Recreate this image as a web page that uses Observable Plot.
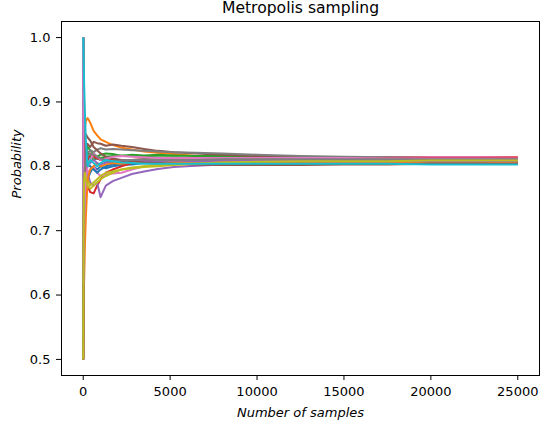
<!DOCTYPE html>
<html>
<head>
<meta charset="utf-8">
<script src="https://cdn.jsdelivr.net/npm/d3@7"></script>
<script src="https://cdn.jsdelivr.net/npm/@observablehq/plot@0.6"></script>
<style>
  html, body { margin: 0; padding: 0; background: white; }
  #chart svg { display: block; }
</style>
</head>
<body>
<div id="chart"></div>
<script>
// Sample counts at which running estimates were read off the picture
const samples = [0, 20, 50, 100, 150, 250, 400, 600, 800, 1000, 1300, 1700, 2200, 2800, 3500, 4300, 5200, 6500, 8000, 10000, 12500, 15000, 17500, 20000, 22500, 25000];

// Running probability estimates per chain
const chain0  = [1.0, 0.75, 0.70, 0.74, 0.76, 0.78, 0.79, 0.80, 0.795, 0.80, 0.797, 0.80, 0.802, 0.803, 0.805, 0.806, 0.805, 0.806, 0.807, 0.806, 0.807, 0.806, 0.807, 0.807, 0.806, 0.806];
const chain1  = [1.0, 0.95, 0.90, 0.86, 0.87, 0.875, 0.868, 0.855, 0.848, 0.842, 0.838, 0.833, 0.829, 0.826, 0.823, 0.821, 0.819, 0.816, 0.815, 0.813, 0.812, 0.811, 0.810, 0.810, 0.809, 0.809];
const chain2  = [0.5, 0.70, 0.76, 0.80, 0.82, 0.83, 0.825, 0.82, 0.815, 0.818, 0.82, 0.819, 0.816, 0.818, 0.817, 0.818, 0.817, 0.816, 0.816, 0.815, 0.814, 0.813, 0.812, 0.812, 0.811, 0.811];
const chain3  = [1.0, 0.80, 0.72, 0.76, 0.75, 0.77, 0.76, 0.758, 0.77, 0.78, 0.79, 0.795, 0.80, 0.805, 0.808, 0.81, 0.811, 0.812, 0.813, 0.812, 0.813, 0.813, 0.814, 0.814, 0.814, 0.814];
const chain4  = [0.5, 0.65, 0.72, 0.76, 0.78, 0.79, 0.775, 0.77, 0.775, 0.752, 0.77, 0.777, 0.782, 0.788, 0.792, 0.796, 0.799, 0.801, 0.803, 0.804, 0.805, 0.806, 0.807, 0.807, 0.808, 0.808];
const chain5  = [1.0, 0.90, 0.84, 0.82, 0.83, 0.835, 0.83, 0.838, 0.836, 0.835, 0.832, 0.834, 0.832, 0.830, 0.827, 0.824, 0.822, 0.82, 0.818, 0.816, 0.814, 0.813, 0.812, 0.811, 0.811, 0.810];
const chain6  = [0.5, 0.70, 0.80, 0.78, 0.80, 0.79, 0.795, 0.80, 0.79, 0.785, 0.787, 0.789, 0.79, 0.795, 0.80, 0.803, 0.806, 0.808, 0.81, 0.811, 0.812, 0.813, 0.813, 0.814, 0.814, 0.813];
const chain7  = [1.0, 0.85, 0.82, 0.84, 0.83, 0.82, 0.825, 0.822, 0.826, 0.828, 0.826, 0.827, 0.826, 0.825, 0.824, 0.823, 0.822, 0.821, 0.82, 0.818, 0.816, 0.815, 0.814, 0.813, 0.813, 0.812];
const chain8  = [0.5, 0.62, 0.70, 0.75, 0.77, 0.78, 0.77, 0.775, 0.78, 0.785, 0.79, 0.792, 0.795, 0.797, 0.799, 0.80, 0.802, 0.804, 0.805, 0.806, 0.807, 0.808, 0.808, 0.809, 0.809, 0.809];
const chain9  = [1.0, 0.80, 0.67, 0.74, 0.78, 0.81, 0.815, 0.81, 0.812, 0.81, 0.808, 0.806, 0.807, 0.806, 0.805, 0.805, 0.806, 0.805, 0.805, 0.804, 0.804, 0.804, 0.804, 0.804, 0.804, 0.804];
const chain10 = [1.0, 0.78, 0.79, 0.81, 0.80, 0.805, 0.80, 0.795, 0.79, 0.795, 0.80, 0.803, 0.805, 0.806, 0.807, 0.808, 0.808, 0.809, 0.808, 0.808, 0.807, 0.807, 0.806, 0.806, 0.805, 0.805];
const chain11 = [0.5, 0.60, 0.62, 0.68, 0.72, 0.78, 0.795, 0.80, 0.805, 0.80, 0.803, 0.805, 0.804, 0.806, 0.807, 0.806, 0.807, 0.806, 0.807, 0.807, 0.806, 0.806, 0.806, 0.807, 0.807, 0.806];
const chain12 = [1.0, 0.88, 0.83, 0.81, 0.815, 0.82, 0.815, 0.81, 0.815, 0.813, 0.815, 0.816, 0.817, 0.816, 0.815, 0.814, 0.814, 0.813, 0.812, 0.812, 0.811, 0.811, 0.810, 0.810, 0.810, 0.810];
const chain13 = [0.5, 0.68, 0.74, 0.78, 0.80, 0.81, 0.82, 0.815, 0.812, 0.81, 0.812, 0.81, 0.808, 0.81, 0.811, 0.81, 0.81, 0.811, 0.811, 0.812, 0.812, 0.812, 0.812, 0.813, 0.813, 0.813];
const chain14 = [1.0, 0.82, 0.80, 0.82, 0.81, 0.80, 0.805, 0.81, 0.805, 0.803, 0.806, 0.808, 0.81, 0.809, 0.808, 0.808, 0.809, 0.808, 0.809, 0.809, 0.808, 0.808, 0.808, 0.808, 0.808, 0.808];
const chain15 = [0.5, 0.75, 0.80, 0.84, 0.85, 0.845, 0.84, 0.83, 0.825, 0.82, 0.815, 0.812, 0.81, 0.808, 0.806, 0.805, 0.804, 0.803, 0.802, 0.802, 0.802, 0.803, 0.803, 0.804, 0.804, 0.804];
const chain16 = [1.0, 0.62, 0.70, 0.76, 0.78, 0.80, 0.81, 0.82, 0.815, 0.81, 0.812, 0.815, 0.816, 0.815, 0.814, 0.813, 0.813, 0.813, 0.813, 0.813, 0.813, 0.813, 0.812, 0.812, 0.812, 0.812];
const chain17 = [0.5, 0.72, 0.78, 0.80, 0.81, 0.815, 0.82, 0.818, 0.815, 0.812, 0.81, 0.808, 0.809, 0.81, 0.811, 0.81, 0.81, 0.81, 0.811, 0.811, 0.811, 0.811, 0.811, 0.811, 0.811, 0.811];
const chain18 = [0.5, 0.70, 0.78, 0.79, 0.78, 0.77, 0.765, 0.77, 0.775, 0.78, 0.785, 0.79, 0.795, 0.798, 0.80, 0.802, 0.803, 0.804, 0.806, 0.807, 0.808, 0.808, 0.808, 0.809, 0.809, 0.809];
const chain19 = [1.0, 0.97, 0.93, 0.88, 0.84, 0.80, 0.81, 0.805, 0.80, 0.805, 0.81, 0.808, 0.806, 0.805, 0.804, 0.804, 0.804, 0.804, 0.804, 0.804, 0.804, 0.804, 0.804, 0.803, 0.803, 0.803];

const chains = [chain0, chain1, chain2, chain3, chain4, chain5, chain6, chain7, chain8, chain9,
                chain10, chain11, chain12, chain13, chain14, chain15, chain16, chain17, chain18, chain19];

const xTicks = [0, 5000, 10000, 15000, 20000, 25000];
const yTicks = [0.5, 0.6, 0.7, 0.8, 0.9, 1.0];
const palette = ["#1f77b4", "#ff7f0e", "#2ca02c", "#d62728", "#9467bd", "#8c564b", "#e377c2", "#7f7f7f", "#bcbd22", "#17becf"];

const titleText = "Metropolis sampling";
const xLabel = "Number of samples";
const yLabel = "Probability";

const lineMarks = chains.map((vals, i) =>
  Plot.line(samples.map((s, j) => ({x: s, y: vals[j]})), {
    x: "x", y: "y", stroke: palette[i % 10], strokeWidth: 2, strokeLinejoin: "round", strokeLinecap: "butt"
  })
);

const chart = Plot.plot({
  width: 541,
  height: 430,
  marginLeft: 61,
  marginRight: 2,
  marginTop: 21,
  marginBottom: 55,
  style: {fontFamily: "'DejaVu Sans'", fontSize: "13px", color: "#000", background: "white"},
  x: {domain: [-1250, 26250], ticks: xTicks, tickFormat: d => String(d), label: null},
  y: {domain: [0.475, 1.025], ticks: yTicks, tickFormat: d => d.toFixed(1), label: null},
  marks: [
    ...lineMarks,
    Plot.frame({stroke: "#000", strokeWidth: 1}),
    Plot.axisX({ticks: xTicks, tickSize: 5, tickPadding: 6, tickFormat: d => String(d), label: null, fontSize: 13}),
    Plot.axisY({ticks: yTicks, tickSize: 5, tickPadding: 6, tickFormat: d => d.toFixed(1), label: null, fontSize: 13}),
    Plot.text([titleText], {frameAnchor: "top", dy: -13.5, text: d => d, fontSize: 15.6, lineAnchor: "middle", fill: "#000"}),
    Plot.text([xLabel], {frameAnchor: "bottom", dy: 37, text: d => d, fontSize: 13, fontStyle: "italic", lineAnchor: "middle", fill: "#000"}),
    Plot.text([yLabel], {frameAnchor: "left", dx: -45, text: d => d, fontSize: 13, fontStyle: "italic", rotate: -90, lineAnchor: "middle", fill: "#000"})
  ]
});
document.getElementById("chart").appendChild(chart);
</script>
</body>
</html>
